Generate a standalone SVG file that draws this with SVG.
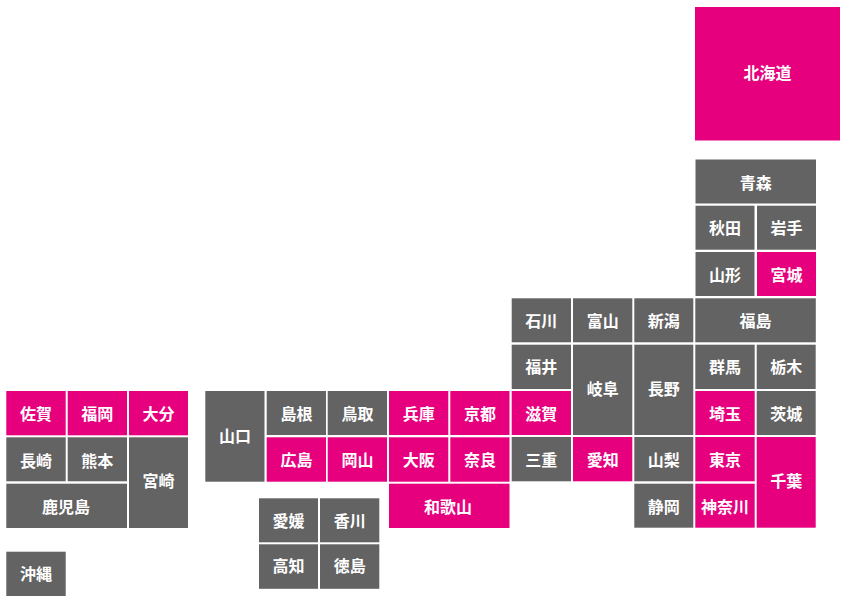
<svg xmlns="http://www.w3.org/2000/svg" width="845" height="602" viewBox="0 0 845 602">
<style>
rect{shape-rendering:geometricPrecision}
.g rect{fill:#636363}
.p rect{fill:#e6007e}
text{font-family:"Noto Sans CJK JP","Noto Sans",sans-serif;font-size:16px;font-weight:700;fill:#fff;text-anchor:middle}
</style>
<rect width="845" height="602" fill="#fff"/>
<g id="hokkaido" class="p"><rect x="695" y="7" width="145" height="133.5"/><text x="767.5" y="79">北海道</text></g>
<g id="aomori" class="g"><rect x="695.5" y="159.5" width="120.5" height="44"/><text x="755.7" y="189">青森</text></g>
<g id="akita" class="g"><rect x="695.5" y="205.7" width="59" height="44"/><text x="725" y="234">秋田</text></g>
<g id="iwate" class="g"><rect x="757" y="205.7" width="59" height="44"/><text x="786.5" y="234">岩手</text></g>
<g id="yamagata" class="g"><rect x="695.5" y="252" width="59" height="44"/><text x="725" y="280.500">山形</text></g>
<g id="miyagi" class="p"><rect x="757" y="252" width="59" height="44"/><text x="786.5" y="280.500">宮城</text></g>
<g id="ishikawa" class="g"><rect x="511.700" y="298.300" width="59.300" height="44"/><text x="541.300" y="327">石川</text></g>
<g id="toyama" class="g"><rect x="573" y="298.300" width="59.300" height="44"/><text x="602.700" y="327">富山</text></g>
<g id="niigata" class="g"><rect x="634.300" y="298.300" width="59" height="44"/><text x="663.800" y="327">新潟</text></g>
<g id="fukushima" class="g"><rect x="695.300" y="298.300" width="120.500" height="44"/><text x="755.500" y="327">福島</text></g>
<g id="fukui" class="g"><rect x="511.700" y="344.700" width="59.300" height="44.300"/><text x="541.300" y="373">福井</text></g>
<g id="gifu" class="g"><rect x="573" y="344.700" width="59.300" height="90.300"/><text x="602.700" y="395">岐阜</text></g>
<g id="nagano" class="g"><rect x="634.300" y="344.700" width="59" height="90.300"/><text x="663.800" y="395">長野</text></g>
<g id="gunma" class="g"><rect x="695.300" y="344.700" width="59.400" height="44.300"/><text x="725" y="373">群馬</text></g>
<g id="tochigi" class="g"><rect x="756.700" y="344.700" width="59" height="44.300"/><text x="786.200" y="373">栃木</text></g>
<g id="shiga" class="p"><rect x="511.700" y="391" width="59.300" height="44"/><text x="541.300" y="420">滋賀</text></g>
<g id="saitama" class="p"><rect x="695.300" y="391" width="59.400" height="44"/><text x="725" y="420">埼玉</text></g>
<g id="ibaraki" class="g"><rect x="756.700" y="391" width="59" height="44"/><text x="786.200" y="420">茨城</text></g>
<g id="mie" class="g"><rect x="511.700" y="437" width="59.300" height="44.300"/><text x="541.300" y="466">三重</text></g>
<g id="aichi" class="p"><rect x="573" y="437" width="59.300" height="44.300"/><text x="602.700" y="466">愛知</text></g>
<g id="yamanashi" class="g"><rect x="634.300" y="437" width="59" height="44.300"/><text x="663.800" y="466">山梨</text></g>
<g id="tokyo" class="p"><rect x="695.300" y="437" width="59.400" height="44.300"/><text x="725" y="466">東京</text></g>
<g id="chiba" class="p"><rect x="756.700" y="437" width="59" height="90.700"/><text x="786.200" y="487">千葉</text></g>
<g id="shizuoka" class="g"><rect x="634.300" y="483.700" width="59" height="44"/><text x="663.800" y="512.500">静岡</text></g>
<g id="kanagawa" class="p"><rect x="695.300" y="483.700" width="59.400" height="44"/><text x="725" y="512.500">神奈川</text></g>
<g id="yamaguchi" class="g"><rect x="205.300" y="391" width="59.200" height="90.700"/><text x="235" y="442">山口</text></g>
<g id="shimane" class="g"><rect x="266.700" y="391" width="59.300" height="44"/><text x="296.500" y="420">島根</text></g>
<g id="tottori" class="g"><rect x="327.700" y="391" width="59.300" height="44"/><text x="357.500" y="420">鳥取</text></g>
<g id="hyogo" class="p"><rect x="389" y="391" width="59.300" height="44"/><text x="418.700" y="420">兵庫</text></g>
<g id="kyoto" class="p"><rect x="450.300" y="391" width="59.200" height="44"/><text x="480" y="420">京都</text></g>
<g id="hiroshima" class="p"><rect x="266.700" y="437.300" width="59.300" height="44.400"/><text x="296.500" y="466">広島</text></g>
<g id="okayama" class="p"><rect x="327.700" y="437.300" width="59.300" height="44.400"/><text x="357.500" y="466">岡山</text></g>
<g id="osaka" class="p"><rect x="389" y="437.300" width="59.300" height="44.400"/><text x="418.700" y="466">大阪</text></g>
<g id="nara" class="p"><rect x="450.300" y="437.300" width="59.200" height="44.400"/><text x="480" y="466">奈良</text></g>
<g id="wakayama" class="p"><rect x="389" y="483.700" width="120.500" height="44.300"/><text x="448" y="512.500">和歌山</text></g>
<g id="ehime" class="g"><rect x="259" y="498.300" width="59" height="44"/><text x="288.500" y="527">愛媛</text></g>
<g id="kagawa" class="g"><rect x="320" y="498.300" width="59.300" height="44"/><text x="349.700" y="527">香川</text></g>
<g id="kochi" class="g"><rect x="259" y="544.300" width="59" height="44.500"/><text x="288.500" y="572">高知</text></g>
<g id="tokushima" class="g"><rect x="320" y="544.300" width="59.300" height="44.500"/><text x="349.700" y="572">徳島</text></g>
<g id="saga" class="p"><rect x="6.300" y="391" width="59.400" height="44.300"/><text x="36" y="420">佐賀</text></g>
<g id="fukuoka" class="p"><rect x="67.700" y="391" width="59.300" height="44.300"/><text x="97.300" y="420">福岡</text></g>
<g id="oita" class="p"><rect x="129" y="391" width="59" height="44.300"/><text x="158.500" y="420">大分</text></g>
<g id="nagasaki" class="g"><rect x="6.300" y="437.300" width="59.400" height="44"/><text x="36" y="467">長崎</text></g>
<g id="kumamoto" class="g"><rect x="67.700" y="437.300" width="59.300" height="44"/><text x="97.300" y="467">熊本</text></g>
<g id="miyazaki" class="g"><rect x="129" y="437.300" width="59" height="90.700"/><text x="158.500" y="487">宮崎</text></g>
<g id="kagoshima" class="g"><rect x="6.300" y="483.700" width="120.700" height="44.300"/><text x="66" y="512.500">鹿児島</text></g>
<g id="okinawa" class="g"><rect x="6.300" y="551.700" width="59.400" height="44.300"/><text x="36" y="580">沖縄</text></g>
</svg>
